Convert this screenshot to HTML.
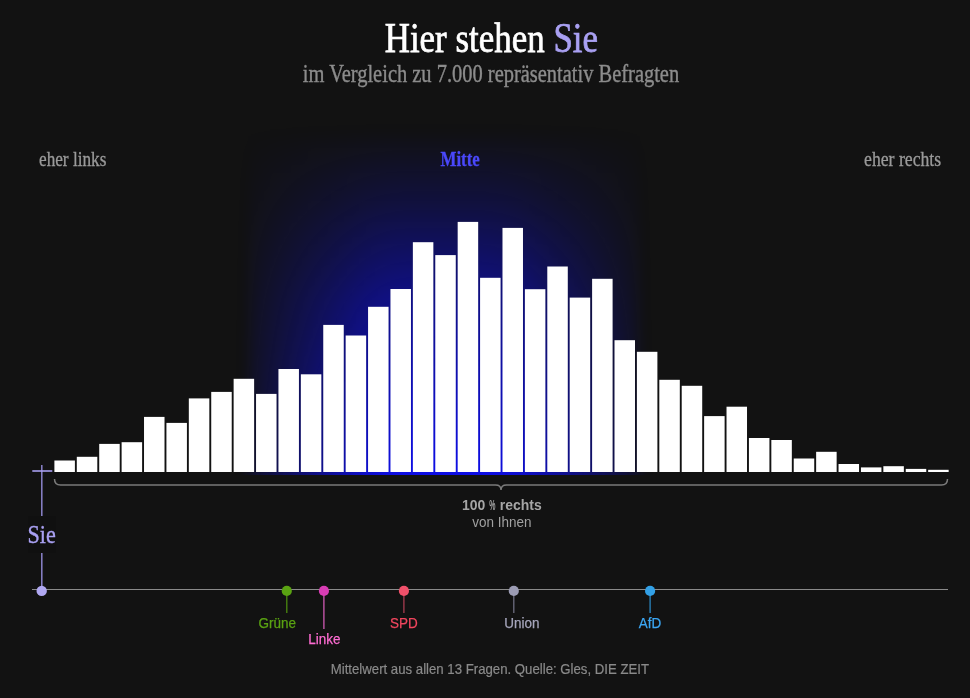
<!DOCTYPE html>
<html lang="de">
<head>
<meta charset="utf-8">
<title>Hier stehen Sie</title>
<style>
html,body{margin:0;padding:0;background:#121212;}
html{width:970px;height:698px;overflow:hidden;}
body{width:970px;height:698px;position:relative;overflow:hidden;
  font-family:"Liberation Sans",sans-serif;color:#fff;}
.serif{font-family:"Liberation Serif",serif;}
.abs{position:absolute;white-space:nowrap;line-height:1;}
.ctr{text-align:center;}
.ctr span,.pl span{display:inline-block;transform-origin:50% 50%;}
#glowclip{position:absolute;left:180px;top:80px;width:540px;height:395.3px;overflow:hidden;}
#glowwrap{position:absolute;left:0;top:0;width:540px;height:460px;filter:blur(6.5px);}
#glow{position:absolute;left:68px;top:49px;width:392px;height:386px;
  background:linear-gradient(to top, rgba(14,14,240,0.96) 0, rgba(14,14,240,0.96) 40px, rgba(14,14,240,0.53) 213px, rgba(14,14,240,0.205) 310px, rgba(14,14,240,0) 386px);
  -webkit-mask-image:linear-gradient(to right, rgba(0,0,0,0.10) 0, rgba(0,0,0,0.88) 118px, rgba(0,0,0,0.97) 140px, #000 160px, #000 232px, rgba(0,0,0,0.97) 252px, rgba(0,0,0,0.88) 274px, rgba(0,0,0,0.10) 392px);
  mask-image:linear-gradient(to right, rgba(0,0,0,0.10) 0, rgba(0,0,0,0.88) 118px, rgba(0,0,0,0.97) 140px, #000 160px, #000 232px, rgba(0,0,0,0.97) 252px, rgba(0,0,0,0.88) 274px, rgba(0,0,0,0.10) 392px);}
#title{left:13.6px;width:956.4px;top:16px;font-size:43px;}
#title span{transform:scaleX(0.812);-webkit-text-stroke:0.75px currentColor;}
#title i{font-style:normal;color:#a9a0f2;-webkit-text-stroke:0.75px #a9a0f2;}
#sub{left:13px;width:957px;top:61.2px;font-size:25px;color:#8c8c8c;}
#sub span{transform:scaleX(0.818);-webkit-text-stroke:0.4px currentColor;}
.lab{font-size:20px;color:#9a9a9a;top:149px;}
.lab span{display:inline-block;-webkit-text-stroke:0.3px currentColor;}
#ll span{transform-origin:0 50%;transform:scaleX(0.86);}
#lr span{transform-origin:100% 50%;transform:scaleX(0.885);}
#lm{color:#4a48fa;font-weight:bold;font-size:21.6px;top:148.6px;}
#lm span{transform:scaleX(0.78);}
.pl{position:absolute;width:120px;text-align:center;font-size:14.5px;line-height:1;white-space:nowrap;}
.pl span{transform:scaleX(0.93);-webkit-text-stroke:0.25px currentColor;}
#b1{left:401.5px;width:200px;top:496.5px;font-size:15px;font-weight:bold;color:#a6a6a6;}
#b2{left:401.5px;width:200px;top:515.2px;font-size:14.5px;color:#a0a0a0;}
#b1 span,#b2 span{transform:scaleX(0.93);}
#b1 b{display:inline-block;transform:scaleX(0.5);margin:0 -3px;}
#foot{left:10.4px;width:959.6px;top:662.2px;font-size:14.5px;color:#8a8a8a;}
#foot span{transform:scaleX(0.91);-webkit-text-stroke:0.2px currentColor;}
#siebox{left:28px;top:516px;width:28px;height:37px;background:#101010;}
#sie{left:11.6px;width:60px;top:522.2px;font-size:26px;color:#a9a0f2;}
#sie span{transform:scaleX(0.85);-webkit-text-stroke:0.4px currentColor;}
svg{position:absolute;left:0;top:0;}
</style>
</head>
<body>
<div id="glowclip"><div id="glowwrap"><div id="glow"></div></div></div>
<svg width="970" height="698" viewBox="0 0 970 698">
<g fill="#ffffff" shape-rendering="auto">
<rect x="54.40" y="460.5" width="20.5" height="11.5"/>
<rect x="76.80" y="456.8" width="20.5" height="15.2"/>
<rect x="99.21" y="443.9" width="20.5" height="28.1"/>
<rect x="121.61" y="442.2" width="20.5" height="29.8"/>
<rect x="144.02" y="416.9" width="20.5" height="55.1"/>
<rect x="166.42" y="422.9" width="20.5" height="49.1"/>
<rect x="188.82" y="398.4" width="20.5" height="73.6"/>
<rect x="211.23" y="391.9" width="20.5" height="80.1"/>
<rect x="233.63" y="378.8" width="20.5" height="93.2"/>
<rect x="256.04" y="393.9" width="20.5" height="78.1"/>
<rect x="278.44" y="369.0" width="20.5" height="103.0"/>
<rect x="300.84" y="374.3" width="20.5" height="97.7"/>
<rect x="323.25" y="324.9" width="20.5" height="147.1"/>
<rect x="345.65" y="335.5" width="20.5" height="136.5"/>
<rect x="368.06" y="306.8" width="20.5" height="165.2"/>
<rect x="390.46" y="289.0" width="20.5" height="183.0"/>
<rect x="412.86" y="242.2" width="20.5" height="229.8"/>
<rect x="435.27" y="255.1" width="20.5" height="216.9"/>
<rect x="457.67" y="221.9" width="20.5" height="250.1"/>
<rect x="480.08" y="277.8" width="20.5" height="194.2"/>
<rect x="502.48" y="227.9" width="20.5" height="244.1"/>
<rect x="524.88" y="289.2" width="20.5" height="182.8"/>
<rect x="547.29" y="266.5" width="20.5" height="205.5"/>
<rect x="569.69" y="297.6" width="20.5" height="174.4"/>
<rect x="592.10" y="278.8" width="20.5" height="193.2"/>
<rect x="614.50" y="340.2" width="20.5" height="131.8"/>
<rect x="636.90" y="351.8" width="20.5" height="120.2"/>
<rect x="659.31" y="379.8" width="20.5" height="92.2"/>
<rect x="681.71" y="385.8" width="20.5" height="86.2"/>
<rect x="704.12" y="416.1" width="20.5" height="55.9"/>
<rect x="726.52" y="406.7" width="20.5" height="65.3"/>
<rect x="748.92" y="438.0" width="20.5" height="34.0"/>
<rect x="771.33" y="440.0" width="20.5" height="32.0"/>
<rect x="793.73" y="458.5" width="20.5" height="13.5"/>
<rect x="816.14" y="451.8" width="20.5" height="20.2"/>
<rect x="838.54" y="464.0" width="20.5" height="8.0"/>
<rect x="860.94" y="467.4" width="20.5" height="4.6"/>
<rect x="883.35" y="466.2" width="20.5" height="5.8"/>
<rect x="905.75" y="468.9" width="20.5" height="3.1"/>
<rect x="928.16" y="469.8" width="20.5" height="2.2"/>
</g>
<path d="M54.5 479 Q54.5 485 60.5 485 H495.5 Q501 485 501 490 Q501 485 506.5 485 H941.5 Q947.5 485 947.5 479" fill="none" stroke="#7a7a7a" stroke-width="1.5"/>
<line x1="32" y1="589.5" x2="948" y2="589.5" stroke="#8a8a8a" stroke-width="1.2"/>
<line x1="41.8" y1="465" x2="41.8" y2="590" stroke="#8c84cc" stroke-width="1.5"/>
<line x1="32.3" y1="471" x2="52.3" y2="471" stroke="#a9a0f2" stroke-width="1.6"/>
<line x1="286.8" y1="591" x2="286.8" y2="613" stroke="#4c8a10" stroke-width="1.3"/>
<line x1="323.9" y1="591" x2="323.9" y2="629" stroke="#d05ab4" stroke-width="1.3"/>
<line x1="403.9" y1="591" x2="403.9" y2="613" stroke="#a83c50" stroke-width="1.3"/>
<line x1="513.8" y1="591" x2="513.8" y2="613" stroke="#6e6e80" stroke-width="1.3"/>
<line x1="650.1" y1="591" x2="650.1" y2="613" stroke="#2a86c0" stroke-width="1.3"/>
<circle cx="286.8" cy="590.9" r="5.1" fill="#5aa312"/>
<circle cx="323.9" cy="590.9" r="5.1" fill="#d83cb4"/>
<circle cx="403.9" cy="590.9" r="5.1" fill="#f0506a"/>
<circle cx="513.8" cy="590.9" r="5.1" fill="#9c9cb4"/>
<circle cx="650.1" cy="590.9" r="5.1" fill="#32a0e6"/>
<circle cx="41.7" cy="590.9" r="5.2" fill="#b0a8f2"/>
</svg>
<div id="title" class="abs ctr serif"><span>Hier stehen <i>Sie</i></span></div>
<div id="sub" class="abs ctr serif"><span>im Vergleich zu 7.000 repräsentativ Befragten</span></div>
<div id="ll" class="abs lab serif" style="left:39px;"><span>eher links</span></div>
<div id="lm" class="abs lab serif ctr" style="left:360.2px;width:200px;"><span>Mitte</span></div>
<div id="lr" class="abs lab serif" style="right:29px;"><span>eher rechts</span></div>
<div id="b1" class="abs ctr"><span>100 <b>%</b> rechts</span></div>
<div id="b2" class="abs ctr"><span>von Ihnen</span></div>
<div id="siebox" class="abs"></div>
<div id="sie" class="abs ctr serif"><span>Sie</span></div>
<div class="pl" style="left:217.0px;top:615.7px;color:#5aa312"><span>Grüne</span></div>
<div class="pl" style="left:264.6px;top:631.8px;color:#ff6cd2"><span>Linke</span></div>
<div class="pl" style="left:344.1px;top:615.7px;color:#f2465e"><span>SPD</span></div>
<div class="pl" style="left:462.0px;top:615.7px;color:#a6a6bc"><span>Union</span></div>
<div class="pl" style="left:590.1px;top:615.7px;color:#3ca8f5"><span>AfD</span></div>
<div id="foot" class="abs ctr"><span>Mittelwert aus allen 13 Fragen. Quelle: Gles, DIE ZEIT</span></div>
</body>
</html>
